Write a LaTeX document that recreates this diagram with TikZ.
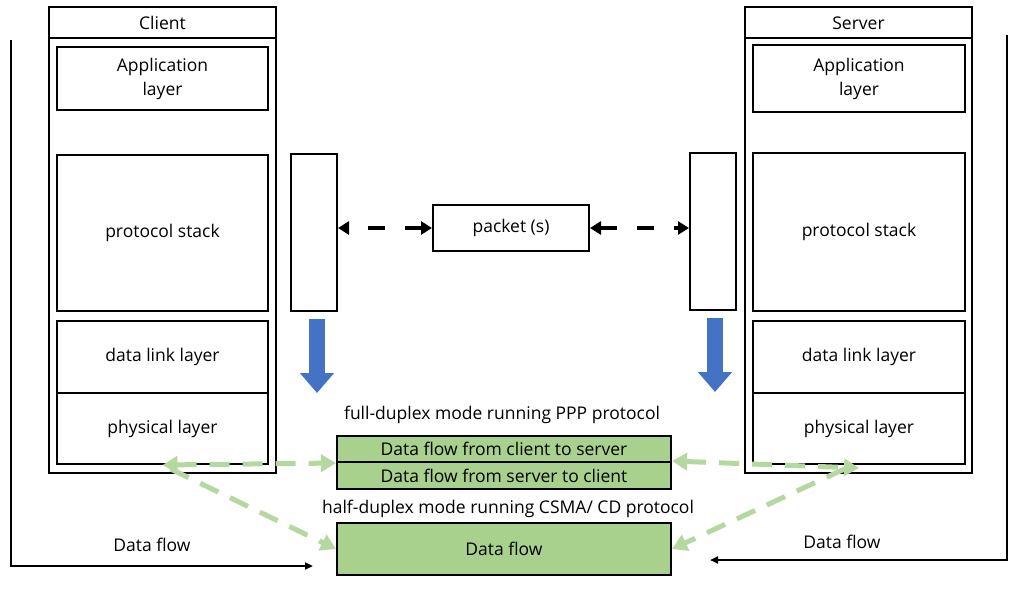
\documentclass[tikz,border=0pt]{standalone}
\usepackage{fontspec}
\setmainfont{Open Sans}
\usetikzlibrary{arrows.meta}
\definecolor{leafgreen}{HTML}{A9D18E}
\definecolor{dashgreen}{HTML}{B4D8A0}
\definecolor{dropblue}{HTML}{4472C4}
\tikzset{
  box/.style={draw, line width=2pt, inner sep=0pt},
  greenbox/.style={box, fill=leafgreen},
  pktarrow/.style={line width=3.5pt, dash pattern=on 17pt off 20pt, {Triangle[length=11pt,width=13pt]}-{Triangle[length=11pt,width=13pt]}},
  greenarrow/.style={dashgreen, line width=5pt, dash pattern=on 20pt off 13pt},
  droparrow/.style={dropblue, line width=16pt, -{Triangle[length=20pt,width=33pt]}},
  flowline/.style={line width=2pt, -{Triangle[length=8pt,width=7pt]}},
}
\begin{document}
\begin{tikzpicture}[x=1pt, y=-1pt, font=\fontsize{17.5}{24}\selectfont]
    \useasboundingbox (0,0) rectangle (1024,592);
    % client side
    \node[box, minimum width=227, minimum height=466] (client) at (162.5,240) {};
    \draw[line width=2pt] ([yshift=-32pt]client.north west) -- ([yshift=-32pt]client.north east);
    \node (client-t) at (162.5,23) {Client};
    \node[box, minimum width=211, minimum height=63, align=center] (app-c) at (162.5,78.5) {Application\\layer};
    \node[box, minimum width=211, minimum height=156] (stack-c) at (162.5,233) {protocol stack};
    \node[box, minimum width=211, minimum height=72] (dll-c) at (162.5,357) {data link layer};
    \node[box, minimum width=211, minimum height=71] (phys-c) at (162.5,428.5) {physical layer};
    % server side
    \node[box, minimum width=227, minimum height=466] (server) at (858.5,240) {};
    \draw[line width=2pt] ([yshift=-32pt]server.north west) -- ([yshift=-32pt]server.north east);
    \node (server-t) at (858.5,23) {Server};
    \node[box, minimum width=212, minimum height=67, align=center] (app-s) at (859,78.5) {Application\\layer};
    \node[box, minimum width=212, minimum height=158] (stack-s) at (859,232) {protocol stack};
    \node[box, minimum width=212, minimum height=72] (dll-s) at (859,357) {data link layer};
    \node[box, minimum width=212, minimum height=71] (phys-s) at (859,428.5) {physical layer};
    % middle
    \node[box, minimum width=46, minimum height=157] (if-c) at (314,232.5) {};
    \node[box, minimum width=46, minimum height=157] (if-s) at (713,231.5) {};
    \node[box, minimum width=156, minimum height=46] (packet) at (511,228) {packet (s)};
    \draw[pktarrow] (packet.west) -- (packet.west -| if-c.east);
    \draw[pktarrow] (packet.east) -- (packet.east -| if-s.west);
    \draw[droparrow] ([xshift=3pt, yshift=-7pt]if-c.south) -- ++(0,74);
    \draw[droparrow] ([xshift=2pt, yshift=-7pt]if-s.south) -- ++(0,74);
    % links
    \node (full-t) at (502,415) {full-duplex mode running PPP protocol};
    \node[greenbox, minimum width=334, minimum height=26] (c2s) at (504,449) {Data flow from client to server};
    \node[greenbox, minimum width=334, minimum height=27] (s2c) at (504,475.5) {Data flow from server to client};
    \node (half-t) at (508,509) {half-duplex mode running CSMA/ CD protocol};
    \node[greenbox, minimum width=334, minimum height=52] (half) at (504,549) {Data flow};
    \draw[greenarrow, {Triangle[length=15pt,width=17pt]}-{Triangle[length=15pt,width=17pt]}] (phys-c.south) -- (c2s.south west);
    \draw[greenarrow, {Triangle[length=15pt,width=17pt]}-{Triangle[length=15pt,width=17pt]}] (s2c.north east) -- ([yshift=-3pt]phys-s.south);
    \draw[greenarrow, -{Triangle[length=15pt,width=17pt]}, shorten <=9pt] (phys-c.south) -- (half.west);
    \draw[greenarrow, -{Triangle[length=15pt,width=17pt]}, shorten <=9pt] ([xshift=-6pt]phys-s.south) -- (half.east);
    % data flow lines
    \coordinate (lstart) at (11,40);
    \coordinate (lend) at (313,566);
    \coordinate (rstart) at (1007,35);
    \coordinate (rend) at (710,560);
    \draw[flowline] (lstart) |- (lend);
    \draw[flowline] (rstart) |- (rend);
    \node (flow-l) at (152,545) {Data flow};
    \node (flow-r) at (842,542) {Data flow};
\end{tikzpicture}
\end{document}
